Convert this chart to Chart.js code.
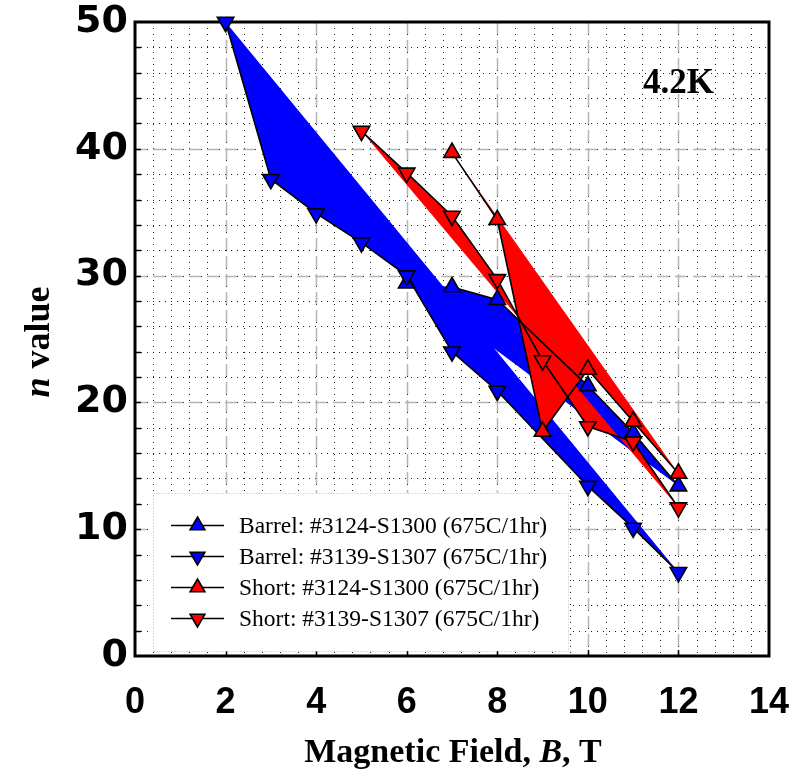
<!DOCTYPE html>
<html>
<head>
<meta charset="utf-8">
<script src="https://cdn.jsdelivr.net/npm/chart.js@4.4.0/dist/chart.umd.min.js"></script>
<style>
  html, body { margin: 0; padding: 0; background: #fff; }
  #wrap { width: 806px; height: 774px; }
</style>
</head>
<body>
<div id="wrap"><canvas id="chart" width="806" height="774"></canvas></div>
<script>
// n value vs field
const barrelUpB = [6, 7, 8, 10, 11, 12];
const barrelUpN = [29.4, 29.1, 28.1, 21.3, 17.6, 13.4];
const barrelDownB = [2, 3, 4, 5, 6, 7, 8, 10, 11, 12];
const barrelDownN = [50, 37.6, 34.9, 32.6, 30.0, 24.0, 20.9, 13.4, 10.1, 6.6];
const shortUpB = [7, 8, 9, 10, 11, 12];
const shortUpN = [39.7, 34.4, 17.7, 22.6, 18.5, 14.4];
const shortDownB = [5, 6, 7, 8, 9, 10, 11, 12];
const shortDownN = [41.4, 38.1, 34.7, 29.7, 23.3, 18.1, 16.9, 11.7];

const seriesLabels = [
    "Barrel: #3124-S1300 (675C/1hr)",
    "Barrel: #3139-S1307 (675C/1hr)",
    "Short: #3124-S1300 (675C/1hr)",
    "Short: #3139-S1307 (675C/1hr)"
];
const tempLabel = "4.2K";

const BLUE = "#0000ff";
const RED = "#ff0000";

function toPoints(xs, ys) {
    return xs.map((x, i) => ({ x: x, y: ys[i] }));
}

function makeSet(label, xs, ys, color, rotation, order) {
    return {
        label: label,
        data: toPoints(xs, ys),
        fill: "shape",
        backgroundColor: color,
        borderColor: "#000",
        borderWidth: 1.6,
        tension: 0,
        pointStyle: "triangle",
        pointRotation: rotation,
        pointRadius: 9.5,
        pointHoverRadius: 9.5,
        pointBackgroundColor: color,
        pointBorderColor: "#000",
        pointBorderWidth: 1.6,
        clip: false,
        order: order
    };
}

const barrelUp = makeSet(seriesLabels[0], barrelUpB, barrelUpN, BLUE, 0, 4);
// the first point (6 T) is not joined by a line in the original
barrelUp.borderColor = "rgba(0,0,0,0)";
const barrelUpLine = {
    label: "",
    data: toPoints(barrelUpB.slice(1), barrelUpN.slice(1)),
    fill: false,
    borderColor: "#000",
    borderWidth: 1.6,
    tension: 0,
    pointRadius: 0,
    clip: false,
    order: 4.5
};

const datasets = [
    barrelUp,
    makeSet(seriesLabels[1], barrelDownB, barrelDownN, BLUE, 180, 3),
    makeSet(seriesLabels[2], shortUpB, shortUpN, RED, 0, 2),
    makeSet(seriesLabels[3], shortDownB, shortDownN, RED, 180, 1),
    barrelUpLine
];

// dotted minor grid + grey dashed major grid, under the fills
const paperGrid = {
    id: "paperGrid",
    beforeDraw(chart) {
        const { ctx, chartArea: a, scales: { x, y } } = chart;
        ctx.save();
        ctx.lineWidth = 1;
        ctx.strokeStyle = "#222";
        ctx.setLineDash([1, 5]);
        for (let i = 1; i < 35; i++) {
            const px = Math.round(x.getPixelForValue(i * 0.4)) + 0.5;
            ctx.beginPath(); ctx.moveTo(px, a.top); ctx.lineTo(px, a.bottom); ctx.stroke();
        }
        for (let v = 2; v < 50; v += 2) {
            const py = Math.round(y.getPixelForValue(v)) + 0.5;
            ctx.beginPath(); ctx.moveTo(a.left, py); ctx.lineTo(a.right, py); ctx.stroke();
        }
        ctx.strokeStyle = "#b4b4b4";
        ctx.lineWidth = 1.5;
        ctx.setLineDash([12, 6]);
        for (let v = 2; v < 14; v += 2) {
            const px = Math.round(x.getPixelForValue(v)) + 0.5;
            ctx.beginPath(); ctx.moveTo(px, a.top); ctx.lineTo(px, a.bottom); ctx.stroke();
        }
        for (let v = 10; v < 50; v += 10) {
            const py = Math.round(y.getPixelForValue(v)) + 0.5;
            ctx.beginPath(); ctx.moveTo(a.left, py); ctx.lineTo(a.right, py); ctx.stroke();
        }
        ctx.restore();
    },
    // frame and inward ticks: over the fills, under lines and markers
    beforeDatasetsDraw(chart) {
        const { ctx, chartArea: a, scales: { x, y } } = chart;
        ctx.save();
        ctx.strokeStyle = "#000";
        ctx.lineWidth = 1.5;
        ctx.setLineDash([]);
        for (let v = 2; v < 14; v += 2) {
            const px = Math.round(x.getPixelForValue(v)) + 0.5;
            ctx.beginPath(); ctx.moveTo(px, a.bottom); ctx.lineTo(px, a.bottom - 6); ctx.stroke();
        }
        for (let v = 2; v < 50; v += 2) {
            const py = Math.round(y.getPixelForValue(v)) + 0.5;
            ctx.beginPath(); ctx.moveTo(a.left, py); ctx.lineTo(a.left + 6, py); ctx.stroke();
        }
        ctx.lineWidth = 3;
        ctx.strokeRect(a.left, a.top, a.right - a.left, a.bottom - a.top);
        ctx.restore();
    }
};

function drawRuns(ctx, runs, x, y) {
    let cx = x;
    runs.forEach(r => {
        ctx.font = r.font;
        ctx.fillText(r.text, cx, y);
        cx += ctx.measureText(r.text).width;
    });
}

function runsWidth(ctx, runs) {
    let w = 0;
    runs.forEach(r => { ctx.font = r.font; w += ctx.measureText(r.text).width; });
    return w;
}

const annotations = {
    id: "annotations",
    afterDraw(chart) {
        const { ctx, chartArea: a } = chart;
        const serif = "'Liberation Serif', 'Times New Roman', serif";
        ctx.save();
        ctx.fillStyle = "#000";
        ctx.textBaseline = "alphabetic";

        // x title
        const xRuns = [
            { text: "Magnetic Field, ", font: "bold 34px " + serif },
            { text: "B", font: "italic bold 34px " + serif },
            { text: ", T", font: "bold 34px " + serif }
        ];
        const xw = runsWidth(ctx, xRuns);
        drawRuns(ctx, xRuns, 453 - xw / 2, 762);

        // y title
        const yRuns = [
            { text: "n", font: "italic bold 36px " + serif },
            { text: " value", font: "bold 36px " + serif }
        ];
        const yw = runsWidth(ctx, yRuns);
        ctx.save();
        ctx.translate(49, 342);
        ctx.rotate(-Math.PI / 2);
        drawRuns(ctx, yRuns, -yw / 2, 0);
        ctx.restore();

        // temperature tag
        ctx.font = "bold 35px " + serif;
        ctx.fillText(tempLabel, 643, 93);

        // legend box
        const bx = 153, by = 493, bw = 415, bh = 158;
        ctx.fillStyle = "#fff";
        ctx.fillRect(bx, by, bw, bh);
        ctx.strokeStyle = "#bbb";
        ctx.lineWidth = 1;
        ctx.setLineDash([1, 2]);
        ctx.strokeRect(bx + 0.5, by + 0.5, bw, bh);
        ctx.setLineDash([]);

        const rowY = [525.5, 556.5, 587.5, 618.5];
        chart.data.datasets.slice(0, 4).forEach((ds, i) => {
            const ry = rowY[i];
            ctx.strokeStyle = "#000";
            ctx.lineWidth = 1.6;
            ctx.beginPath(); ctx.moveTo(171, ry); ctx.lineTo(224, ry); ctx.stroke();
            ctx.fillStyle = ds.pointBackgroundColor;
            ctx.strokeStyle = ds.pointBorderColor;
            ctx.lineWidth = ds.pointBorderWidth;
            Chart.helpers.drawPoint(ctx, {
                pointStyle: ds.pointStyle,
                rotation: ds.pointRotation,
                radius: 8.5,
                borderWidth: ds.pointBorderWidth
            }, 197.5, ry);
            ctx.fillStyle = "#000";
            ctx.font = "23.5px " + serif;
            ctx.textBaseline = "middle";
            ctx.fillText(ds.label, 239, ry + 1);
            ctx.textBaseline = "alphabetic";
        });
        ctx.restore();
    }
};

new Chart(document.getElementById("chart"), {
    type: "line",
    data: { datasets: datasets },
    options: {
        responsive: false,
        devicePixelRatio: 1,
        animation: false,
        events: [],
        layout: { padding: { top: 22, right: 37, left: 0, bottom: 0 } },
        plugins: {
            legend: { display: false },
            tooltip: { enabled: false },
            filler: { drawTime: "beforeDatasetsDraw" }
        },
        scales: {
            x: {
                type: "linear",
                min: 0,
                max: 14,
                ticks: {
                    stepSize: 2,
                    color: "#000",
                    padding: 2,
                    maxRotation: 0,
                    font: { family: "'Liberation Sans', Arial, sans-serif", size: 36, weight: "bold", lineHeight: 1.1 }
                },
                grid: { display: true, drawOnChartArea: false, drawTicks: true, tickLength: 25, tickColor: "rgba(0,0,0,0)", color: "rgba(0,0,0,0)" },
                border: { display: false },
                afterFit: s => { s.height = 118; }
            },
            y: {
                type: "linear",
                min: 0,
                max: 50,
                ticks: {
                    stepSize: 10,
                    color: "#000",
                    padding: 0,
                    font: { family: "'DejaVu Sans', sans-serif", size: 38, weight: "bold", lineHeight: 1.1 }
                },
                grid: { display: true, drawOnChartArea: false, drawTicks: true, tickLength: 7, tickColor: "rgba(0,0,0,0)", color: "rgba(0,0,0,0)" },
                border: { display: false },
                afterFit: s => { s.width = 135; }
            }
        }
    },
    plugins: [paperGrid, annotations]
});
</script>
</body>
</html>
